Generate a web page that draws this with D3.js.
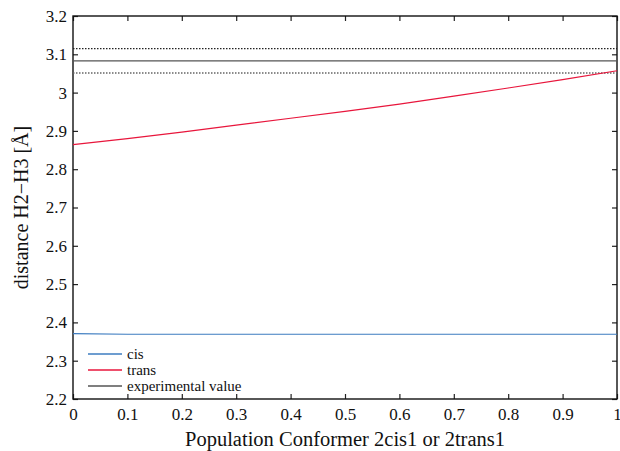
<!DOCTYPE html>
<html>
<head>
<meta charset="utf-8">
<script src="https://cdn.jsdelivr.net/npm/d3@7"></script>
<style>
  body { margin: 0; background: #fff; }
  text { font-family: "Liberation Serif", "DejaVu Serif", serif; fill: #111; }
</style>
</head>
<body>
<div id="chart"></div>
<script>
const width = 620
const height = 451
const margin = { top: 16, right: 3, bottom: 52, left: 73 }

// Datos
const population = [0, 0.1, 0.2, 0.3, 0.4, 0.5, 0.6, 0.7, 0.8, 0.9, 1]
const cisValues = [2.3705, 2.369, 2.369, 2.369, 2.369, 2.369, 2.369, 2.369, 2.369, 2.369, 2.369]
const transValues = [2.864, 2.880, 2.897, 2.915, 2.933, 2.951, 2.970, 2.991, 3.012, 3.034, 3.057]
const expValue = 3.083
const expError = 0.032
const xTicks = [0, 0.1, 0.2, 0.3, 0.4, 0.5, 0.6, 0.7, 0.8, 0.9, 1]
const yTicks = [2.2, 2.3, 2.4, 2.5, 2.6, 2.7, 2.8, 2.9, 3, 3.1, 3.2]
const legendLabels = ["cis", "trans", "experimental value"]
const colors = ["#3d7cc0", "#e8163c", "#555555"]

const w = width - margin.left - margin.right
const h = height - margin.top - margin.bottom

const svg = d3.select("#chart")
  .append("svg")
  .attr("width", width)
  .attr("height", height)

const g = svg.append("g")
  .attr("transform", `translate(${margin.left}, ${margin.top})`)

// Escalas
const x = d3.scaleLinear().domain([0, 1]).range([0, w])
const y = d3.scaleLinear().domain([2.2, 3.2]).range([h, 0])

const fmt = d => String(+d.toFixed(1))

// Ejes
const xAxis = g.append("g").attr("transform", `translate(0, ${h})`)
  .call(d3.axisBottom(x).tickValues(xTicks).tickFormat(fmt).tickSizeInner(-5).tickSizeOuter(0).tickPadding(9))
const yAxis = g.append("g")
  .call(d3.axisLeft(y).tickValues(yTicks).tickFormat(fmt).tickSizeInner(-5).tickSizeOuter(0).tickPadding(6))
const xTop = g.append("g")
  .call(d3.axisTop(x).tickValues(xTicks).tickFormat("").tickSizeInner(-5).tickSizeOuter(0))
const yRight = g.append("g").attr("transform", `translate(${w}, 0)`)
  .call(d3.axisRight(y).tickValues(yTicks).tickFormat("").tickSizeInner(-5).tickSizeOuter(0))

;[xAxis, yAxis, xTop, yRight].forEach(a => {
  a.select(".domain").remove()
  a.selectAll("line").attr("stroke", "#222").attr("stroke-width", 1.2)
  a.selectAll("text").style("font-size", "17px").attr("fill", "#111")
})

// Marco
g.append("rect")
  .attr("width", w).attr("height", h)
  .attr("fill", "none").attr("stroke", "#111").attr("stroke-width", 1.4)

// Valor experimental
g.append("line")
  .attr("x1", x(0)).attr("x2", x(1))
  .attr("y1", y(expValue)).attr("y2", y(expValue))
  .attr("stroke", colors[2]).attr("stroke-width", 1.2)
g.append("line")
  .attr("x1", x(0)).attr("x2", x(1))
  .attr("y1", y(expValue + expError)).attr("y2", y(expValue + expError))
  .attr("stroke", "#222").attr("stroke-width", 1.2).attr("stroke-dasharray", "1.5,1.5")
g.append("line")
  .attr("x1", x(0)).attr("x2", x(1))
  .attr("y1", y(expValue - expError)).attr("y2", y(expValue - expError))
  .attr("stroke", "#666").attr("stroke-width", 1.4).attr("stroke-dasharray", "1.5,1.5")

const line = d3.line().x((d, i) => x(population[i])).y(d => y(d))

g.append("path").datum(cisValues)
  .attr("fill", "none").attr("stroke", colors[0]).attr("stroke-width", 1.2)
  .attr("d", line)
g.append("path").datum(transValues)
  .attr("fill", "none").attr("stroke", colors[1]).attr("stroke-width", 1.2)
  .attr("d", line)

// Leyenda
const legend = g.append("g").attr("transform", `translate(15, ${h - 45})`)
legendLabels.forEach((label, i) => {
  legend.append("line")
    .attr("x1", 0).attr("x2", 34)
    .attr("y1", i * 16).attr("y2", i * 16)
    .attr("stroke", colors[i]).attr("stroke-width", 1.4)
  legend.append("text")
    .attr("x", 39).attr("y", i * 16 + 5)
    .style("font-size", "15px")
    .text(label)
})

// Etiquetas
svg.append("text")
  .attr("x", margin.left + w / 2).attr("y", height - 5)
  .attr("text-anchor", "middle")
  .style("font-size", "20.5px")
  .text("Population Conformer 2cis1 or 2trans1")

svg.append("text")
  .attr("transform", `translate(28, ${margin.top + h / 2}) rotate(-90)`)
  .attr("text-anchor", "middle")
  .style("font-size", "20px")
  .text("distance H2\u2212H3 [\u00c5]")
</script>
</body>
</html>
